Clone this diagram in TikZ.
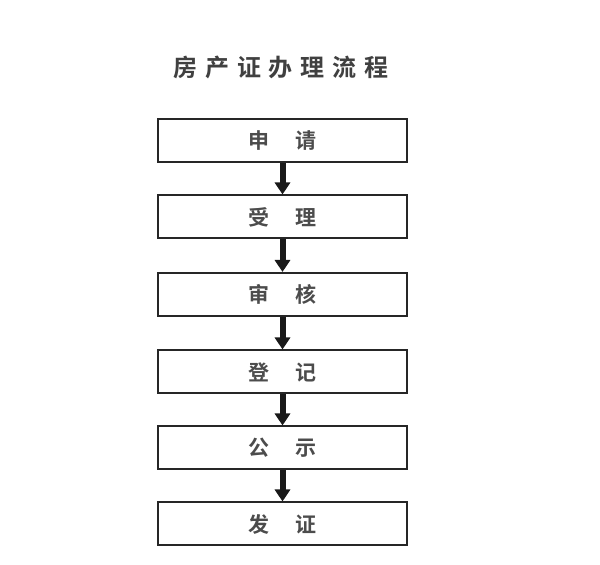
\documentclass[tikz,border=0pt]{standalone}
\usepackage{fontspec}
\newfontfamily\cjk{Noto Sans CJK SC Bold}
\newfontfamily\cjktitle[LetterSpace=33]{Noto Sans CJK SC Bold}
\usetikzlibrary{arrows.meta}
\newcommand{\gap}{\hspace{1.25em}}
\begin{document}
\begin{tikzpicture}[x=0.5pt,y=-0.5pt,
  stepbox/.style={draw=black!85,line width=1pt,minimum width=124.5pt,minimum height=21.5pt,inner sep=0pt,text=black!70,font=\cjk\fontsize{10.5}{12}\selectfont},
  flow/.style={black!90,line width=3pt,-{Triangle[length=6pt,width=7.5pt]}}]
\useasboundingbox [fill=white] (0,0) rectangle (600,565);
\node [text=black!75,font=\cjktitle\fontsize{12}{14}\selectfont] (T) at (281,67) {房产证办理流程};
\node [stepbox] (s1) at (282.5,141) {申\gap 请};
\node [stepbox] (s2) at (282.5,217) {受\gap 理};
\node [stepbox] (s3) at (282.5,294.5) {审\gap 核};
\node [stepbox] (s4) at (282.5,372) {登\gap 记};
\node [stepbox] (s5) at (282.5,448) {公\gap 示};
\node [stepbox] (s6) at (282.5,524) {发\gap 证};
\draw [flow] (s1) -- (s2);
\draw [flow] (s2) -- (s3);
\draw [flow] (s3) -- (s4);
\draw [flow] (s4) -- (s5);
\draw [flow] (s5) -- (s6);
\end{tikzpicture}
\end{document}
